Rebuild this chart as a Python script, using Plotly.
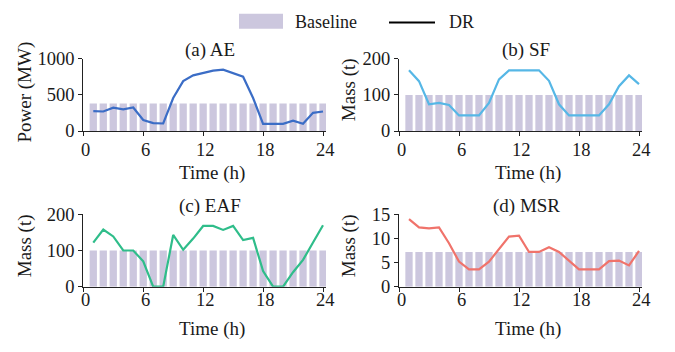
import plotly.graph_objects as go

hours = list(range(1, 25))

ae_dr = [274, 270, 322, 300, 326, 152, 109, 104, 457, 690, 770, 805, 835, 848, 796, 752, 457, 100, 100, 100, 143, 100, 252, 270]
ae_base = [380] * 24
sf_dr = [168, 138, 74, 78, 72, 43, 43, 43, 78, 143, 168, 168, 168, 168, 139, 74, 43, 43, 43, 43, 74, 124, 154, 130]
sf_base = [100] * 24
eaf_dr = [122, 158, 139, 100, 100, 70, 0, 0, 143, 102, 133, 168, 168, 157, 168, 129, 135, 43, 0, 0, 40, 74, 122, 170]
eaf_base = [100] * 24
msr_dr = [14.0, 12.3, 12.1, 12.3, 9.0, 5.2, 3.6, 3.6, 5.2, 7.8, 10.4, 10.6, 7.2, 7.2, 8.2, 7.2, 5.3, 3.6, 3.6, 3.6, 5.3, 5.4, 4.4, 7.4]
msr_base = [7.2] * 24

titles = ["(a) AE", "(b) SF", "(c) EAF", "(d) MSR"]
ytitles = ["Power (MW)", "Mass (t)", "Mass (t)", "Mass (t)"]
yranges = [[0, 1000], [0, 200], [0, 200], [0, 15]]
ytickvals = [[0, 500, 1000], [0, 100, 200], [0, 100, 200], [0, 5, 10, 15]]
xticks = [0, 6, 12, 18, 24]
xticklabels = ["0", "6", "12", "18", "24"]
colors = ["#3B6DC6", "#56B7E6", "#2FBD8A", "#F0736B"]
bar_color = "#CCC7DE"
dr_series = [ae_dr, sf_dr, eaf_dr, msr_dr]
base_series = [ae_base, sf_base, eaf_base, msr_base]

W, H = 675, 352
FONT = "Liberation Serif"
FS_T = 19
FS_K = 18.5
TXT = "#1a1a1a"

# pixel boxes of plot areas: (x0, x1, ytop, ybottom)
boxes = [
    (83.3, 326.0, 51.7, 128.3),
    (399.0, 642.0, 51.7, 128.3),
    (83.3, 326.0, 216.7, 293.3),
    (399.0, 642.0, 216.7, 293.3),
]
xlabel_offset = [20.5, 20.5, 14.3, 14.3]   # px below axis to centre of tick labels
ytitle_lift = [2.5, 5, 4.5, 4.5]

fig = go.Figure()
layout = dict(
    width=W, height=H,
    margin=dict(l=0, r=0, t=0, b=0),
    paper_bgcolor="white", plot_bgcolor="white",
    showlegend=False,
    font=dict(family=FONT, size=FS_K, color=TXT),
    bargap=0.27,
)
annotations = []
shapes = []

for i in range(4):
    xa = "x" if i == 0 else f"x{i+1}"
    ya = "y" if i == 0 else f"y{i+1}"
    xk = "xaxis" if i == 0 else f"xaxis{i+1}"
    yk = "yaxis" if i == 0 else f"yaxis{i+1}"
    x0, x1, yt, yb = boxes[i]
    fig.add_trace(go.Bar(x=hours, y=base_series[i], marker=dict(color=bar_color, line=dict(width=0)),
                         xaxis=xa, yaxis=ya, name="Baseline"))
    fig.add_trace(go.Scatter(x=hours, y=dr_series[i], mode="lines",
                             line=dict(color=colors[i], width=2.2),
                             xaxis=xa, yaxis=ya, name="DR", cliponaxis=False))
    layout[xk] = dict(
        domain=[x0 / W, x1 / W], anchor=ya, range=[0, 24.3],
        tickvals=xticks, ticks="outside", ticklen=4, tickwidth=1, tickcolor="#222",
        showline=True, linecolor="#222", linewidth=1.2, showgrid=False, zeroline=False,
        showticklabels=False,
    )
    layout[yk] = dict(
        domain=[1 - yb / H, 1 - yt / H], anchor=xa, range=yranges[i],
        tickvals=ytickvals[i], ticks="outside", ticklen=4, tickwidth=1, tickcolor="#222",
        showline=True, linecolor="#222", linewidth=1.2, showgrid=False, zeroline=False,
        tickfont=dict(family=FONT, size=FS_K, color=TXT),
    )
    # x tick labels
    for tv, tl in zip(xticks, xticklabels):
        annotations.append(dict(text=tl, x=tv, xref=xa, y=1 - (yb + xlabel_offset[i]) / H, yref="paper",
                                xanchor="center", yanchor="middle", showarrow=False, xshift=2,
                                font=dict(family=FONT, size=FS_K, color=TXT)))
    cx = (x0 + x1) / 2
    annotations.append(dict(text=titles[i], x=(cx + 5.5) / W, y=1 - (yt - 9) / H, xref="paper", yref="paper",
                            xanchor="center", yanchor="middle", showarrow=False,
                            font=dict(family=FONT, size=FS_T, color=TXT)))
    annotations.append(dict(text="Time (h)", x=(cx + 7.5) / W, y=1 - (yb + 44.5) / H, xref="paper", yref="paper",
                            xanchor="center", yanchor="middle", showarrow=False,
                            font=dict(family=FONT, size=FS_T, color=TXT)))
    ytx = 25 if i % 2 == 0 else 349
    annotations.append(dict(text=ytitles[i], x=ytx / W, y=1 - ((yt + yb) / 2 - ytitle_lift[i]) / H,
                            xref="paper", yref="paper",
                            xanchor="center", yanchor="middle", showarrow=False, textangle=-90,
                            font=dict(family=FONT, size=FS_T, color=TXT)))

# legend (drawn in paper coordinates)
shapes.append(dict(type="rect", xref="paper", yref="paper",
                   x0=239 / W, x1=283 / W, y0=1 - 20 / H, y1=1 - 4 / H,
                   fillcolor=bar_color, line=dict(width=0)))
annotations.append(dict(text="Baseline", x=293 / W, y=1 - 12.5 / H, xref="paper", yref="paper",
                        xanchor="left", yanchor="middle", showarrow=False,
                        font=dict(family=FONT, size=18, color=TXT)))
shapes.append(dict(type="line", xref="paper", yref="paper",
                   x0=389 / W, x1=435 / W, y0=1 - 13.3 / H, y1=1 - 13.3 / H,
                   line=dict(color="black", width=2)))
annotations.append(dict(text="DR", x=447 / W, y=1 - 12.5 / H, xref="paper", yref="paper",
                        xanchor="left", yanchor="middle", showarrow=False,
                        font=dict(family=FONT, size=18, color=TXT)))

layout["annotations"] = annotations
layout["shapes"] = shapes
fig.update_layout(**layout)
fig.write_html("out.html")
